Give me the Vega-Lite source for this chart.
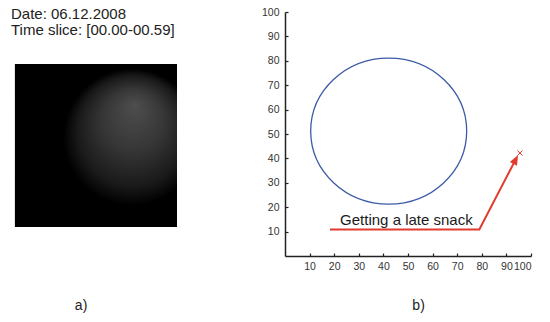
{
  "$schema": "https://vega.github.io/schema/vega-lite/v6.json",
  "width": 246,
  "height": 244,
  "autosize": {"type": "none"},
  "padding": {"left": 285, "top": 12, "right": 19, "bottom": 66},
  "background": "white",
  "config": {"view": {"stroke": null}, "font": "Liberation Sans"},
  "datasets": {
    "image": [{"x": -109.8, "x2": -43.9, "y": 78.7, "y2": 11.9}],
    "caption": [
      {"x": -111.4, "y": 97.1, "text": "Date: 06.12.2008"},
      {"x": -111.4, "y": 90.6, "text": "Time slice: [00.00-00.59]"}
    ],
    "cluster": [{"x": 42.15, "y": 51.2}],
    "trajectory": [
      {"step": 1, "x": 18.3, "y": 10.9},
      {"step": 2, "x": 79.0, "y": 10.9},
      {"step": 3, "x": 93.8, "y": 39.6}
    ],
    "fix": [{"x": 95.5, "y": 42.2}],
    "annotation": [{"x": 22.4, "y": 12.7, "text": "Getting a late snack"}],
    "panels": [
      {"x": -82.9, "y": -22.1, "text": "a)"},
      {"x": 54.3, "y": -22.1, "text": "b)"}
    ]
  },
  "encoding": {
    "x": {
      "field": "x", "type": "quantitative",
      "scale": {"domain": [0, 100], "nice": false, "zero": false},
      "axis": {"title": null, "values": [10, 20, 30, 40, 50, 60, 70, 80, 90, 100], "grid": false,
        "domainColor": "#222", "domainWidth": 1.5, "tickColor": "#222", "tickWidth": 1.2,
        "tickSize": -3, "labelPadding": 8, "labelFontSize": 10.5, "labelColor": "#333"}
    },
    "y": {
      "field": "y", "type": "quantitative",
      "scale": {"domain": [0, 100], "nice": false, "zero": false},
      "axis": {"title": null, "values": [10, 20, 30, 40, 50, 60, 70, 80, 90, 100], "grid": false,
        "domainColor": "#222", "domainWidth": 1.5, "tickColor": "#222", "tickWidth": 1.2,
        "tickSize": -3, "labelPadding": 9, "labelFontSize": 10.5, "labelColor": "#333"}
    }
  },
  "layer": [
    {
      "data": {"name": "image"},
      "mark": {"type": "rect", "stroke": null, "fill": {"gradient": "radial", "x1": 0.74, "y1": 0.25, "r1": 0, "x2": 0.72, "y2": 0.45, "r2": 0.42,
        "stops": [{"offset": 0, "color": "#4e4e4e"}, {"offset": 0.45, "color": "#363636"}, {"offset": 0.8, "color": "#1a1a1a"}, {"offset": 1, "color": "#000000"}]}},
      "encoding": {"x2": {"field": "x2"}, "y2": {"field": "y2"}}
    },
    {
      "data": {"name": "caption"},
      "mark": {"type": "text", "align": "left", "baseline": "alphabetic", "fontSize": 15, "color": "#222"},
      "encoding": {"text": {"field": "text"}}
    },
    {
      "data": {"name": "cluster"},
      "mark": {"type": "point", "shape": "M-1,0A1,0.936,0,1,0,1,0A1,0.936,0,1,0,-1,0Z", "size": 24336, "filled": false, "color": "#3c5aa6", "strokeWidth": 1.3, "opacity": 1}
    },
    {
      "data": {"name": "trajectory"},
      "mark": {"type": "line", "color": "#e23a2e", "strokeWidth": 2},
      "encoding": {"order": {"field": "step"}}
    },
    {
      "data": {"name": "trajectory"},
      "transform": [{"filter": "datum.step == 3"}],
      "mark": {"type": "point", "shape": "M0,-1.25L-1,1.25L1,1.25Z", "size": 64, "filled": true, "color": "#e23a2e", "opacity": 1, "angle": 27.5}
    },
    {
      "data": {"name": "fix"},
      "mark": {"type": "point", "shape": "M-1,-1L1,1M-1,1L1,-1", "size": 25, "filled": false, "color": "#e23a2e", "strokeWidth": 1, "opacity": 1}
    },
    {
      "data": {"name": "annotation"},
      "mark": {"type": "text", "align": "left", "baseline": "alphabetic", "fontSize": 15, "color": "#1a1a1a"},
      "encoding": {"text": {"field": "text"}}
    },
    {
      "data": {"name": "panels"},
      "mark": {"type": "text", "align": "center", "baseline": "alphabetic", "fontSize": 14, "color": "#222"},
      "encoding": {"text": {"field": "text"}}
    }
  ]
}
